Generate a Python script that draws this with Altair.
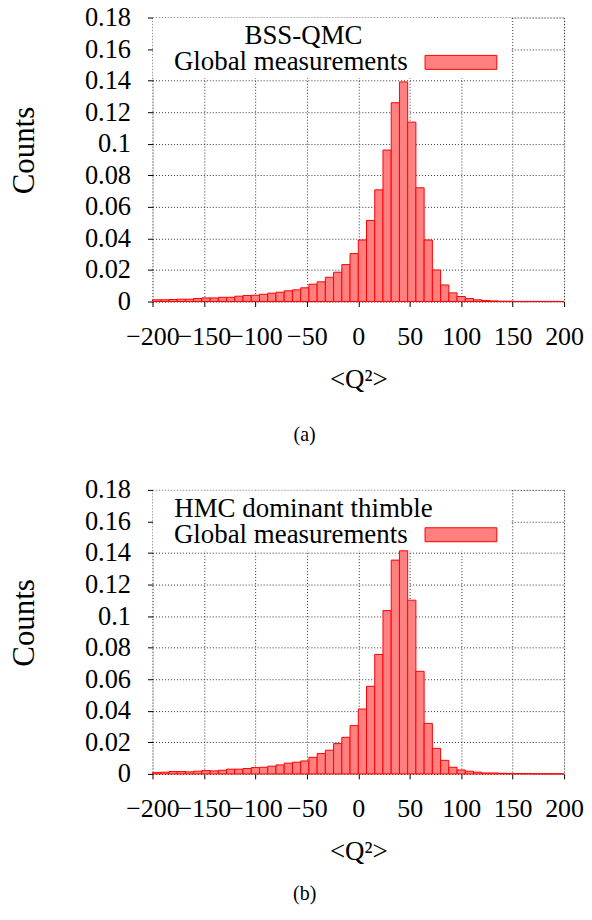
import altair as alt
import pandas as pd

# ---------------- data ----------------
bin_left = [-200, -192, -184, -176, -168, -160, -152, -144, -136, -128,
            -120, -112, -104, -96, -88, -80, -72, -64, -56, -48,
            -40, -32, -24, -16, -8, 0, 8, 16, 24, 32,
            40, 48, 56, 64, 72, 80, 88, 96, 104, 112,
            120, 128, 136, 144, 152, 160, 168, 176, 184, 192]
bin_width = 8

bss_counts = [0.0011, 0.0011, 0.0013, 0.0015, 0.0015, 0.0019, 0.0023, 0.0023, 0.0027, 0.0027,
              0.0034, 0.0038, 0.0040, 0.0046, 0.0053, 0.0059, 0.0068, 0.0074, 0.0087, 0.0110,
              0.0125, 0.0154, 0.0186, 0.0234, 0.0304, 0.0390, 0.0514, 0.0708, 0.0960, 0.1260,
              0.1392, 0.1137, 0.0721, 0.0390, 0.0200, 0.0105, 0.0055, 0.0032, 0.0019, 0.0011,
              0.0006, 0.0004, 0.0002, 0.0002, 0.0001, 0.0001, 0.0001, 0.0001, 0.0001, 0.0001]

hmc_counts = [0.0008, 0.0011, 0.0015, 0.0015, 0.0013, 0.0017, 0.0021, 0.0019, 0.0023, 0.0030,
              0.0030, 0.0034, 0.0040, 0.0042, 0.0049, 0.0057, 0.0068, 0.0074, 0.0082, 0.0105,
              0.0129, 0.0150, 0.0192, 0.0232, 0.0306, 0.0411, 0.0555, 0.0757, 0.1035, 0.1355,
              0.1414, 0.1101, 0.0650, 0.0320, 0.0162, 0.0086, 0.0042, 0.0025, 0.0017, 0.0011,
              0.0006, 0.0006, 0.0004, 0.0003, 0.0002, 0.0002, 0.0001, 0.0001, 0.0001, 0.0001]

x_ticks = [-200, -150, -100, -50, 0, 50, 100, 150, 200]
y_ticks = [0, 0.02, 0.04, 0.06, 0.08, 0.1, 0.12, 0.14, 0.16, 0.18]

key_titles = ["BSS-QMC", "HMC dominant thimble"]
key_label = "Global measurements"
captions = ["(a)", "(b)"]
x_title = "<Q²>"
y_title = "Counts"

# ---------------- style ----------------
SERIF = "Liberation Serif"
W, H = 413, 285
GAP = 189
FILL = "#ff8080"
EDGE = "#ff0000"


def panel(counts, key_title, caption, cap_y, frame_top, frame_bottom):
    df = pd.DataFrame({
        "lo": bin_left,
        "hi": [b + bin_width for b in bin_left],
        "count": counts,
        "base": [0.0] * len(bin_left),
    })
    xs = alt.Scale(domain=[-200, 200], nice=False, zero=False)
    ys = alt.Scale(domain=[0, 0.18], nice=False)

    x_axis = alt.Axis(values=x_ticks, format="d", title=x_title, grid=True,
                      gridDash=[1, 2], gridColor="#333", gridWidth=1,
                      domain=False, tickSize=5, tickColor="black",
                      labelFont=SERIF, labelFontSize=26, labelColor="black",
                      labelPadding=17, labelOverlap=False, labelFlush=False,
                      titleFont=SERIF, titleFontSize=27, titleFontWeight="normal",
                      titleColor="black", titleY=86, titleBaseline="alphabetic")
    y_axis = alt.Axis(values=y_ticks, title=y_title, grid=True,
                      labelExpr="datum.value == 0 ? '0' : format(datum.value, '~g')",
                      gridDash=[1, 2], gridColor="#333", gridWidth=1,
                      domain=False, tickSize=5, tickColor="black",
                      labelFont=SERIF, labelFontSize=26.5, labelColor="black",
                      labelPadding=17, labelOverlap=False, labelFlush=False,
                      titleFont=SERIF, titleFontSize=31, titleFontWeight="normal",
                      titleColor="black", titleAngle=270, titleX=-119, titleY=133,
                      titleAlign="center", titleBaseline="alphabetic")

    bars = alt.Chart(df).mark_rect(fill=FILL, stroke=EDGE, strokeWidth=1).encode(
        x=alt.X("lo:Q", scale=xs, axis=x_axis),
        x2="hi:Q",
        y=alt.Y("count:Q", scale=ys, axis=y_axis),
        y2="base:Q",
    )

    one = pd.DataFrame({"k": [0]})
    # invisible frame that fixes the figure's outer extent
    frame = alt.Chart(one).mark_rect(fill="white", fillOpacity=0, strokeOpacity=0).encode(
        x=alt.value(-144.3), x2=alt.value(431.7),
        y=alt.value(frame_top), y2=alt.value(frame_bottom))
    key_bg = alt.Chart(one).mark_rect(fill="white").encode(
        x=alt.value(0.5), x2=alt.value(359), y=alt.value(0.5), y2=alt.value(61))
    key_t = alt.Chart(one).mark_text(font=SERIF, fontSize=27, color="black",
                                     align="center", baseline="alphabetic").encode(
        x=alt.value(151.5), y=alt.value(27), text=alt.value(key_title))
    key_l = alt.Chart(one).mark_text(font=SERIF, fontSize=27, color="black",
                                     align="right", baseline="alphabetic").encode(
        x=alt.value(256), y=alt.value(53), text=alt.value(key_label))
    key_sw = alt.Chart(one).mark_rect(fill=FILL, stroke=EDGE, strokeWidth=1).encode(
        x=alt.value(273.5), x2=alt.value(345.5), y=alt.value(38), y2=alt.value(52))
    cap = alt.Chart(one).mark_text(font=SERIF, fontSize=20, color="black",
                                   align="center", baseline="alphabetic").encode(
        x=alt.value(152.7), y=alt.value(cap_y), text=alt.value(caption))

    return alt.layer(frame, key_bg, bars, key_t, key_l, key_sw, cap).properties(width=W, height=H)


chart = alt.vconcat(
    panel(bss_counts, key_titles[0], captions[0], 424.5, -9, H + GAP),
    panel(hmc_counts, key_titles[1], captions[1], 412, 0, 416),
    spacing=GAP,
    bounds="flush",
).properties(
    padding={"top": -6, "left": 0, "right": 0, "bottom": 0},
).configure_view(stroke="black", strokeWidth=1).configure(background="white")

chart.save("out.html", embed_options={"renderer": "svg", "actions": False})
